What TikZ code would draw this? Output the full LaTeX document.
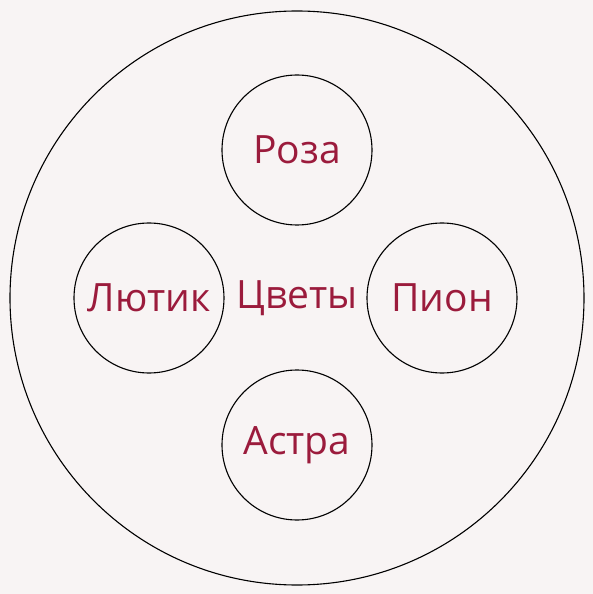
\documentclass[tikz,border=0pt]{standalone}
\usepackage{fontspec}
\setmainfont{Open Sans}
\usepackage{tikz}
\definecolor{flowerred}{HTML}{9B1B3C}
\definecolor{paper}{HTML}{F8F4F4}
\tikzstyle{flower} = [circle, 
minimum size=150pt, 
inner sep=0pt, 
text centered, 
draw=black, 
line width=1.1pt, 
text=flowerred, 
font=\fontsize{39}{44}\selectfont]

\begin{document}
\begin{tikzpicture}[node distance=147pt]
\fill[paper] (-297pt,-296pt) rectangle (296pt,298pt);
\useasboundingbox (-297pt,-296pt) rectangle (296pt,298pt);

\node (all) [circle, minimum size=574pt, draw=black, line width=1.1pt] at (0,0) {};
\node (cvety) [text=flowerred, font=\fontsize{39}{44}\selectfont] at (0,0) {Цветы};

\node (roza) [flower, above of=cvety, yshift=1pt] {Роза};
\node (astra) [flower, below of=cvety] {Астра};
\node (lutik) [flower, left of=cvety, xshift=-1pt] {Лютик};
\node (pion) [flower, right of=cvety, xshift=-2pt] {Пион};

\end{tikzpicture}
\end{document}
